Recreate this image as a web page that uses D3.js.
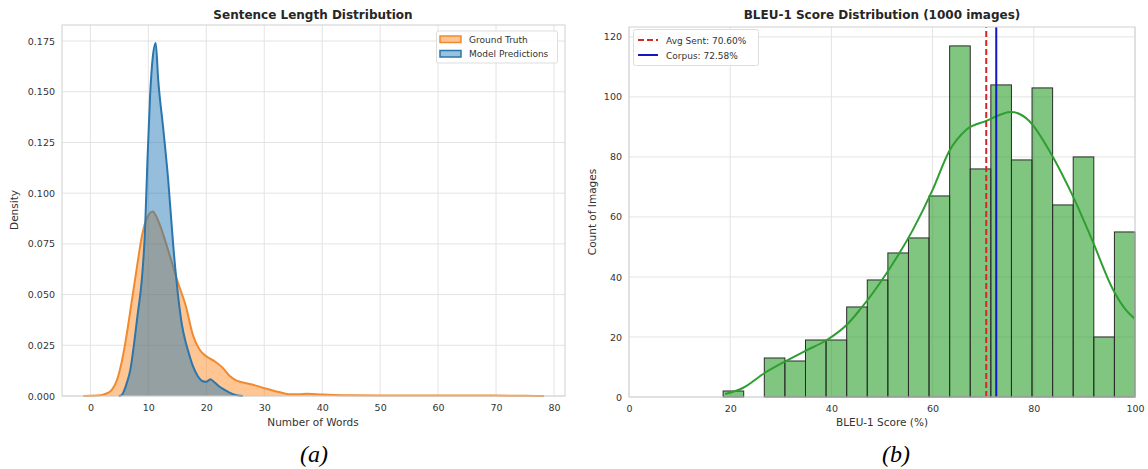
<!DOCTYPE html>
<html>
<head>
<meta charset="utf-8">
<script src="https://cdn.jsdelivr.net/npm/d3@7"></script>
<style>
  body { margin: 0; background: #fff; }
  svg text { font-family: "DejaVu Sans", sans-serif; }
</style>
</head>
<body>
<div id="chart"></div>
<script>
// ---- data: (a) sentence length KDE ----
var gtWords    = [-1.2, 0, 1, 2, 3, 3.7, 4.6, 5.1, 5.7, 6.3, 7.1, 8, 8.9, 9.8, 10.75, 11.9, 13.4, 15.1, 16.5, 17.7, 18.8, 20, 21.5, 22.8, 24, 25, 27.9, 30.4, 32.5, 34.2, 36, 37.4, 40, 42, 45, 50, 55, 60, 65, 70, 75, 78.3];
var gtDensity  = [0, 0.0001, 0.0002, 0.0005, 0.0015, 0.003, 0.008, 0.013, 0.021, 0.031, 0.046, 0.063, 0.079, 0.088, 0.091, 0.085, 0.072, 0.056, 0.044, 0.030, 0.023, 0.0196, 0.017, 0.014, 0.010, 0.008, 0.0057, 0.0036, 0.002, 0.0009, 0.0009, 0.0011, 0.0007, 0.0005, 0.0004, 0.0003, 0.0003, 0.0002, 0.0002, 0.0002, 0.0001, 0];
var predWords   = [4.9, 5.4, 6.3, 6.9, 7.5, 8.1, 8.86, 9.43, 9.83, 10.3, 10.8, 11.27, 11.7, 12.6, 13.44, 14.3, 15.15, 15.8, 16.4, 17.1, 17.7, 18.5, 19.3, 20, 20.7, 21.5, 22.2, 22.8, 23.8, 24.7, 26.3];
var predDensity = [0, 0.0005, 0.0066, 0.013, 0.025, 0.039, 0.057, 0.082, 0.115, 0.148, 0.168, 0.174, 0.156, 0.131, 0.106, 0.074, 0.049, 0.035, 0.027, 0.020, 0.0147, 0.010, 0.0074, 0.007, 0.0083, 0.0065, 0.0048, 0.0036, 0.002, 0.0008, 0];
var lenXTicks = [0, 10, 20, 30, 40, 50, 60, 70, 80];
var lenYTicks = [0, 0.025, 0.05, 0.075, 0.1, 0.125, 0.15, 0.175];

// ---- data: (b) BLEU-1 histogram ----
var binEdges  = [18.6, 22.67, 26.74, 30.81, 34.88, 38.95, 43.02, 47.09, 51.16, 55.23, 59.30, 63.37, 67.44, 71.51, 75.58, 79.65, 83.72, 87.79, 91.86, 95.93, 100];
var binCounts = [2, 0, 13, 12, 19, 19, 30, 39, 48, 53, 67, 117, 76, 104, 79, 103, 64, 80, 20, 55];
var kdeScore  = [19, 22.5, 26.8, 30.8, 35, 39.1, 43.3, 45.6, 50.8, 56.1, 60, 63.3, 66.6, 70.6, 75.5, 79.1, 83.1, 87.7, 91.6, 95.6, 98.2, 100];
var kdeCount  = [1, 3, 8, 11.8, 15.5, 19, 24.5, 29, 41, 55.7, 69, 82, 89, 92, 95, 92, 82, 67, 52, 36, 29, 26];
var avgSent = 70.60;
var corpus = 72.58;
var bleuXTicks = [0, 20, 40, 60, 80, 100];
var bleuYTicks = [0, 20, 40, 60, 80, 100, 120];

var width = 1148, height = 469;
var gridColor = "#e3e3e3", edgeColor = "#d0d0d0", textColor = "#333";

var svg = d3.select("#chart").append("svg")
  .attr("width", width)
  .attr("height", height);
svg.append("rect").attr("width", width).attr("height", height).attr("fill", "#fff");

// common helper for the grid and ticks
function drawAxes(x, y, xt, yt, yFmt) {
  var g = svg.append("g");
  var x0 = x.range()[0], x1 = x.range()[1], y0 = y.range()[0], y1 = y.range()[1];
  g.selectAll(".vg").data(xt).enter().append("line")
    .attr("x1", d => x(d)).attr("x2", d => x(d))
    .attr("y1", y0).attr("y2", y1)
    .attr("stroke", gridColor).attr("stroke-width", 1);
  g.selectAll(".hg").data(yt).enter().append("line")
    .attr("x1", x0).attr("x2", x1)
    .attr("y1", d => y(d)).attr("y2", d => y(d))
    .attr("stroke", gridColor).attr("stroke-width", 1);

  var bottom = svg.append("g")
    .attr("transform", `translate(0, ${y0})`)
    .call(d3.axisBottom(x).tickValues(xt).tickSize(0).tickPadding(8).tickFormat(d3.format("d")));
  var left = svg.append("g")
    .attr("transform", `translate(${x0}, 0)`)
    .call(d3.axisLeft(y).tickValues(yt).tickSize(0).tickPadding(7).tickFormat(yFmt));
  [bottom, left].forEach(function(a) {
    a.select(".domain").remove();
    a.selectAll("text").attr("fill", textColor).style("font-size", "9.5px")
      .style("font-family", "DejaVu Sans");
  });
  return g;
}

function drawFrame(x, y) {
  svg.append("rect")
    .attr("x", x.range()[0]).attr("y", y.range()[1])
    .attr("width", x.range()[1] - x.range()[0])
    .attr("height", y.range()[0] - y.range()[1])
    .attr("fill", "none").attr("stroke", edgeColor).attr("stroke-width", 1);
}

// ================= (a) Sentence Length Distribution =================
var xL = d3.scaleLinear().domain([-4.9, 81.9]).range([62, 565]);
var yL = d3.scaleLinear().domain([0, 0.1829]).range([396, 25]);

drawAxes(xL, yL, lenXTicks, lenYTicks, d3.format(".3f"));

var areaL = d3.area()
  .x(d => xL(d[0])).y0(yL(0)).y1(d => yL(d[1]))
  .curve(d3.curveMonotoneX);
var lineL = d3.line()
  .x(d => xL(d[0])).y(d => yL(d[1]))
  .curve(d3.curveMonotoneX);

var gtPts = d3.zip(gtWords, gtDensity);
var predPts = d3.zip(predWords, predDensity);

svg.append("path").attr("d", areaL(gtPts)).attr("fill", "#ff7f0e").attr("fill-opacity", 0.45);
svg.append("path").attr("d", lineL(gtPts)).attr("fill", "none").attr("stroke", "#f08a30").attr("stroke-width", 2);
svg.append("path").attr("d", areaL(predPts)).attr("fill", "#1f77b4").attr("fill-opacity", 0.48);
svg.append("path").attr("d", lineL(predPts)).attr("fill", "none").attr("stroke", "#2a76ad").attr("stroke-width", 2);

drawFrame(xL, yL);

svg.append("text")
  .attr("x", 313).attr("y", 19)
  .attr("text-anchor", "middle")
  .style("font-weight", "bold").style("font-size", "12px")
  .attr("fill", "#262626")
  .text("Sentence Length Distribution");

svg.append("text")
  .attr("x", 313).attr("y", 426)
  .attr("text-anchor", "middle")
  .style("font-size", "10.5px").attr("fill", textColor)
  .text("Number of Words");

svg.append("text")
  .attr("transform", "translate(18, 210) rotate(-90)")
  .attr("text-anchor", "middle")
  .style("font-size", "10.5px").attr("fill", textColor)
  .text("Density");

// legend (a)
var legA = svg.append("g");
legA.append("rect")
  .attr("x", 436.5).attr("y", 31).attr("width", 121).attr("height", 32).attr("rx", 2)
  .attr("fill", "#fff").attr("fill-opacity", 0.85).attr("stroke", "#ddd");
var legAItems = [
  { label: "Ground Truth", fill: "#ff7f0e", stroke: "#f08a30" },
  { label: "Model Predictions", fill: "#1f77b4", stroke: "#2a76ad" }
];
legAItems.forEach(function(it, i) {
  legA.append("rect")
    .attr("x", 440).attr("y", 36 + i * 14.5).attr("width", 21).attr("height", 6.5)
    .attr("fill", it.fill).attr("fill-opacity", 0.45)
    .attr("stroke", it.stroke).attr("stroke-width", 1.5);
  legA.append("text")
    .attr("x", 469).attr("y", 42.5 + i * 14.5)
    .style("font-size", "9px").attr("fill", textColor)
    .text(it.label);
});

svg.append("text")
  .attr("x", 314).attr("y", 462)
  .attr("text-anchor", "middle")
  .style("font-family", "Liberation Serif").style("font-style", "italic").style("font-size", "24px")
  .attr("fill", "#000")
  .text("(a)");

// ================= (b) BLEU-1 Score Distribution =================
var xR = d3.scaleLinear().domain([0, 100]).range([629, 1135]);
var yR = d3.scaleLinear().domain([0, 123.3]).range([397, 27]);

drawAxes(xR, yR, bleuXTicks, bleuYTicks, d3.format("d"));

var bins = binCounts.map(function(c, i) { return { x0: binEdges[i], x1: binEdges[i + 1], n: c }; });

svg.selectAll(".bar")
  .data(bins.filter(d => d.n > 0))
  .enter()
  .append("rect")
  .attr("x", d => xR(d.x0))
  .attr("y", d => yR(d.n))
  .attr("width", d => xR(d.x1) - xR(d.x0))
  .attr("height", d => yR(0) - yR(d.n))
  .attr("fill", "#2ca02c").attr("fill-opacity", 0.6)
  .attr("stroke", "#2b2b2b").attr("stroke-width", 1);

svg.append("path")
  .attr("d", d3.line().x(d => xR(d[0])).y(d => yR(d[1])).curve(d3.curveMonotoneX)(d3.zip(kdeScore, kdeCount)))
  .attr("fill", "none").attr("stroke", "#2e9e32").attr("stroke-width", 2);

svg.append("line")
  .attr("x1", xR(avgSent)).attr("x2", xR(avgSent))
  .attr("y1", yR.range()[0]).attr("y2", yR.range()[1])
  .attr("stroke", "#d62728").attr("stroke-width", 2).attr("stroke-dasharray", "6,3");
svg.append("line")
  .attr("x1", xR(corpus)).attr("x2", xR(corpus))
  .attr("y1", yR.range()[0]).attr("y2", yR.range()[1])
  .attr("stroke", "#1515c8").attr("stroke-width", 2);

drawFrame(xR, yR);

svg.append("text")
  .attr("x", 882).attr("y", 19)
  .attr("text-anchor", "middle")
  .style("font-weight", "bold").style("font-size", "12px")
  .attr("fill", "#262626")
  .text("BLEU-1 Score Distribution (1000 images)");

svg.append("text")
  .attr("x", 882).attr("y", 426)
  .attr("text-anchor", "middle")
  .style("font-size", "10.5px").attr("fill", textColor)
  .text("BLEU-1 Score (%)");

svg.append("text")
  .attr("transform", "translate(596, 212) rotate(-90)")
  .attr("text-anchor", "middle")
  .style("font-size", "10.5px").attr("fill", textColor)
  .text("Count of Images");

// legend (b)
var legB = svg.append("g");
legB.append("rect")
  .attr("x", 633.5).attr("y", 29.5).attr("width", 125).attr("height", 36).attr("rx", 2)
  .attr("fill", "#fff").attr("fill-opacity", 0.85).attr("stroke", "#ddd");
var legBItems = [
  { label: `Avg Sent: ${avgSent.toFixed(2)}%`, color: "#d62728", dash: "6,3" },
  { label: `Corpus: ${corpus.toFixed(2)}%`, color: "#1515c8", dash: null }
];
legBItems.forEach(function(it, i) {
  legB.append("line")
    .attr("x1", 638).attr("x2", 658)
    .attr("y1", 40 + i * 15).attr("y2", 40 + i * 15)
    .attr("stroke", it.color).attr("stroke-width", 2)
    .attr("stroke-dasharray", it.dash);
  legB.append("text")
    .attr("x", 666).attr("y", 43.5 + i * 15)
    .style("font-size", "9px").attr("fill", textColor)
    .text(it.label);
});

svg.append("text")
  .attr("x", 896).attr("y", 462)
  .attr("text-anchor", "middle")
  .style("font-family", "Liberation Serif").style("font-style", "italic").style("font-size", "24px")
  .attr("fill", "#000")
  .text("(b)");
</script>
</body>
</html>
